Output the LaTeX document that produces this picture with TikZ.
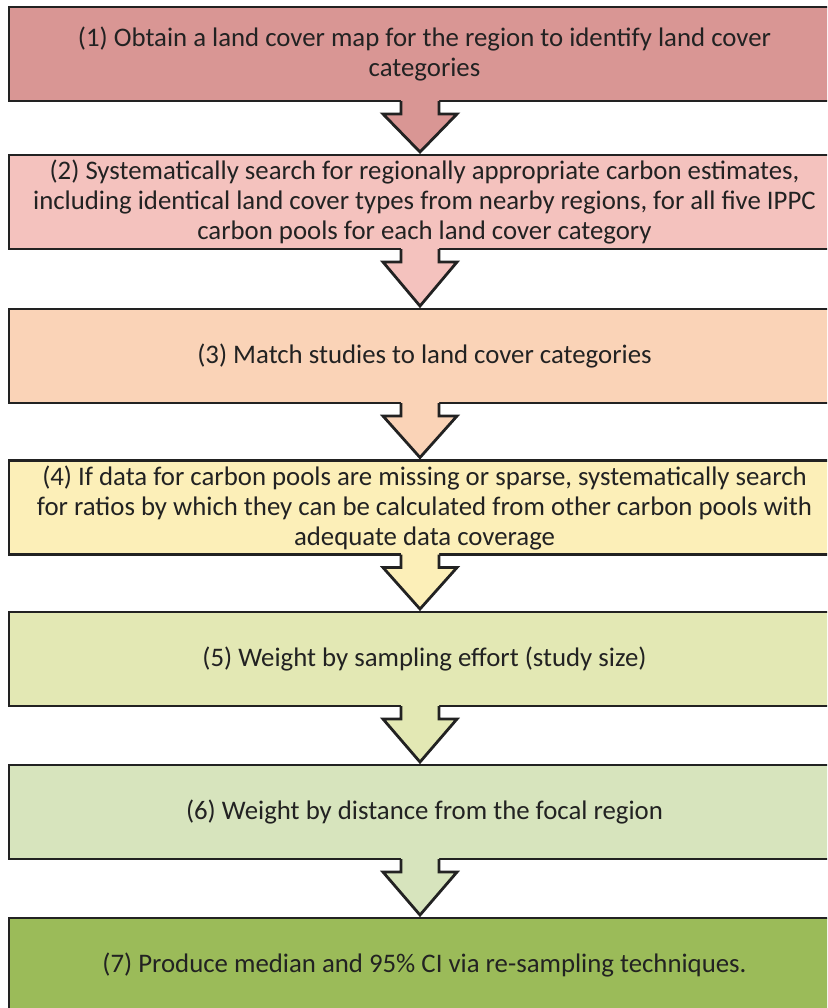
\documentclass[tikz,border=0pt]{standalone}
\usepackage{fontspec}
\setmainfont{Carlito}
\usetikzlibrary{calc}

\definecolor{fillone}{HTML}{D99694}
\definecolor{filltwo}{HTML}{F4C2BE}
\definecolor{fillthree}{HTML}{FAD3B7}
\definecolor{fillfour}{HTML}{FCEFB8}
\definecolor{fillfive}{HTML}{E3E8B4}
\definecolor{fillsix}{HTML}{D7E4BD}
\definecolor{fillseven}{HTML}{9BBB59}
\definecolor{edgegray}{HTML}{222222}

\begin{document}
\begin{tikzpicture}[x=0.5pt,y=-0.5pt,
	stepbox/.style={rectangle,draw=edgegray,line width=1.4pt,outer sep=0pt,inner sep=0pt,
		minimum width=415.5pt,minimum height=47pt,align=center,
		font=\fontsize{13.4}{15}\selectfont,text=edgegray},
	arrowline/.style={draw=edgegray,line width=1.4pt}]
	\clip (0,0) rectangle (827,1008);
	\coordinate (ax) at (420,0);
	% boxes
	\node[stepbox,fill=fillone] (s1) at (424.5,54)
		{(1) Obtain a land cover map for the region to identify land cover\\categories};
	\node[stepbox,fill=filltwo] (s2) at (424.5,202)
		{(2) Systematically search for regionally appropriate carbon estimates,\\including identical land cover types from nearby regions, for all five IPPC\\carbon pools for each land cover category};
	\node[stepbox,fill=fillthree] (s3) at (424.5,356)
		{(3) Match studies to land cover categories};
	\node[stepbox,fill=fillfour] (s4) at (424.5,507.5)
		{(4) If data for carbon pools are missing or sparse, systematically search\\for ratios by which they can be calculated from other carbon pools with\\adequate data coverage};
	\node[stepbox,fill=fillfive] (s5) at (424.5,659)
		{(5) Weight by sampling effort (study size)};
	\node[stepbox,fill=fillsix] (s6) at (424.5,812)
		{(6) Weight by distance from the focal region};
	\node[stepbox,fill=fillseven] (s7) at (424.5,965)
		{(7) Produce median and 95\% CI via re-sampling techniques.};
	% block arrows
	\fill[fillone] ($(ax|-s1.south)+(-19,-4)$) -- ($(ax|-s1.south)+(-19,13)$) -- ($(ax|-s1.south)+(-37,13)$)
		-- ($(ax|-s2.north)+(0,-3)$) -- ($(ax|-s1.south)+(37,13)$) -- ($(ax|-s1.south)+(19,13)$) -- ($(ax|-s1.south)+(19,-4)$) -- cycle;
	\draw[arrowline] ($(ax|-s1.south)+(-19,0)$) -- ($(ax|-s1.south)+(-19,13)$) -- ($(ax|-s1.south)+(-37,13)$)
		-- ($(ax|-s2.north)+(0,-3)$) -- ($(ax|-s1.south)+(37,13)$) -- ($(ax|-s1.south)+(19,13)$) -- ($(ax|-s1.south)+(19,0)$);
	\fill[filltwo] ($(ax|-s2.south)+(-19,-4)$) -- ($(ax|-s2.south)+(-19,13)$) -- ($(ax|-s2.south)+(-37,13)$)
		-- ($(ax|-s3.north)+(0,-3)$) -- ($(ax|-s2.south)+(37,13)$) -- ($(ax|-s2.south)+(19,13)$) -- ($(ax|-s2.south)+(19,-4)$) -- cycle;
	\draw[arrowline] ($(ax|-s2.south)+(-19,0)$) -- ($(ax|-s2.south)+(-19,13)$) -- ($(ax|-s2.south)+(-37,13)$)
		-- ($(ax|-s3.north)+(0,-3)$) -- ($(ax|-s2.south)+(37,13)$) -- ($(ax|-s2.south)+(19,13)$) -- ($(ax|-s2.south)+(19,0)$);
	\fill[fillthree] ($(ax|-s3.south)+(-19,-4)$) -- ($(ax|-s3.south)+(-19,13)$) -- ($(ax|-s3.south)+(-37,13)$)
		-- ($(ax|-s4.north)+(0,-3)$) -- ($(ax|-s3.south)+(37,13)$) -- ($(ax|-s3.south)+(19,13)$) -- ($(ax|-s3.south)+(19,-4)$) -- cycle;
	\draw[arrowline] ($(ax|-s3.south)+(-19,0)$) -- ($(ax|-s3.south)+(-19,13)$) -- ($(ax|-s3.south)+(-37,13)$)
		-- ($(ax|-s4.north)+(0,-3)$) -- ($(ax|-s3.south)+(37,13)$) -- ($(ax|-s3.south)+(19,13)$) -- ($(ax|-s3.south)+(19,0)$);
	\fill[fillfour] ($(ax|-s4.south)+(-19,-4)$) -- ($(ax|-s4.south)+(-19,13)$) -- ($(ax|-s4.south)+(-37,13)$)
		-- ($(ax|-s5.north)+(0,-3)$) -- ($(ax|-s4.south)+(37,13)$) -- ($(ax|-s4.south)+(19,13)$) -- ($(ax|-s4.south)+(19,-4)$) -- cycle;
	\draw[arrowline] ($(ax|-s4.south)+(-19,0)$) -- ($(ax|-s4.south)+(-19,13)$) -- ($(ax|-s4.south)+(-37,13)$)
		-- ($(ax|-s5.north)+(0,-3)$) -- ($(ax|-s4.south)+(37,13)$) -- ($(ax|-s4.south)+(19,13)$) -- ($(ax|-s4.south)+(19,0)$);
	\fill[fillfive] ($(ax|-s5.south)+(-19,-4)$) -- ($(ax|-s5.south)+(-19,13)$) -- ($(ax|-s5.south)+(-37,13)$)
		-- ($(ax|-s6.north)+(0,-3)$) -- ($(ax|-s5.south)+(37,13)$) -- ($(ax|-s5.south)+(19,13)$) -- ($(ax|-s5.south)+(19,-4)$) -- cycle;
	\draw[arrowline] ($(ax|-s5.south)+(-19,0)$) -- ($(ax|-s5.south)+(-19,13)$) -- ($(ax|-s5.south)+(-37,13)$)
		-- ($(ax|-s6.north)+(0,-3)$) -- ($(ax|-s5.south)+(37,13)$) -- ($(ax|-s5.south)+(19,13)$) -- ($(ax|-s5.south)+(19,0)$);
	\fill[fillsix] ($(ax|-s6.south)+(-19,-4)$) -- ($(ax|-s6.south)+(-19,13)$) -- ($(ax|-s6.south)+(-37,13)$)
		-- ($(ax|-s7.north)+(0,-3)$) -- ($(ax|-s6.south)+(37,13)$) -- ($(ax|-s6.south)+(19,13)$) -- ($(ax|-s6.south)+(19,-4)$) -- cycle;
	\draw[arrowline] ($(ax|-s6.south)+(-19,0)$) -- ($(ax|-s6.south)+(-19,13)$) -- ($(ax|-s6.south)+(-37,13)$)
		-- ($(ax|-s7.north)+(0,-3)$) -- ($(ax|-s6.south)+(37,13)$) -- ($(ax|-s6.south)+(19,13)$) -- ($(ax|-s6.south)+(19,0)$);
\end{tikzpicture}
\end{document}
